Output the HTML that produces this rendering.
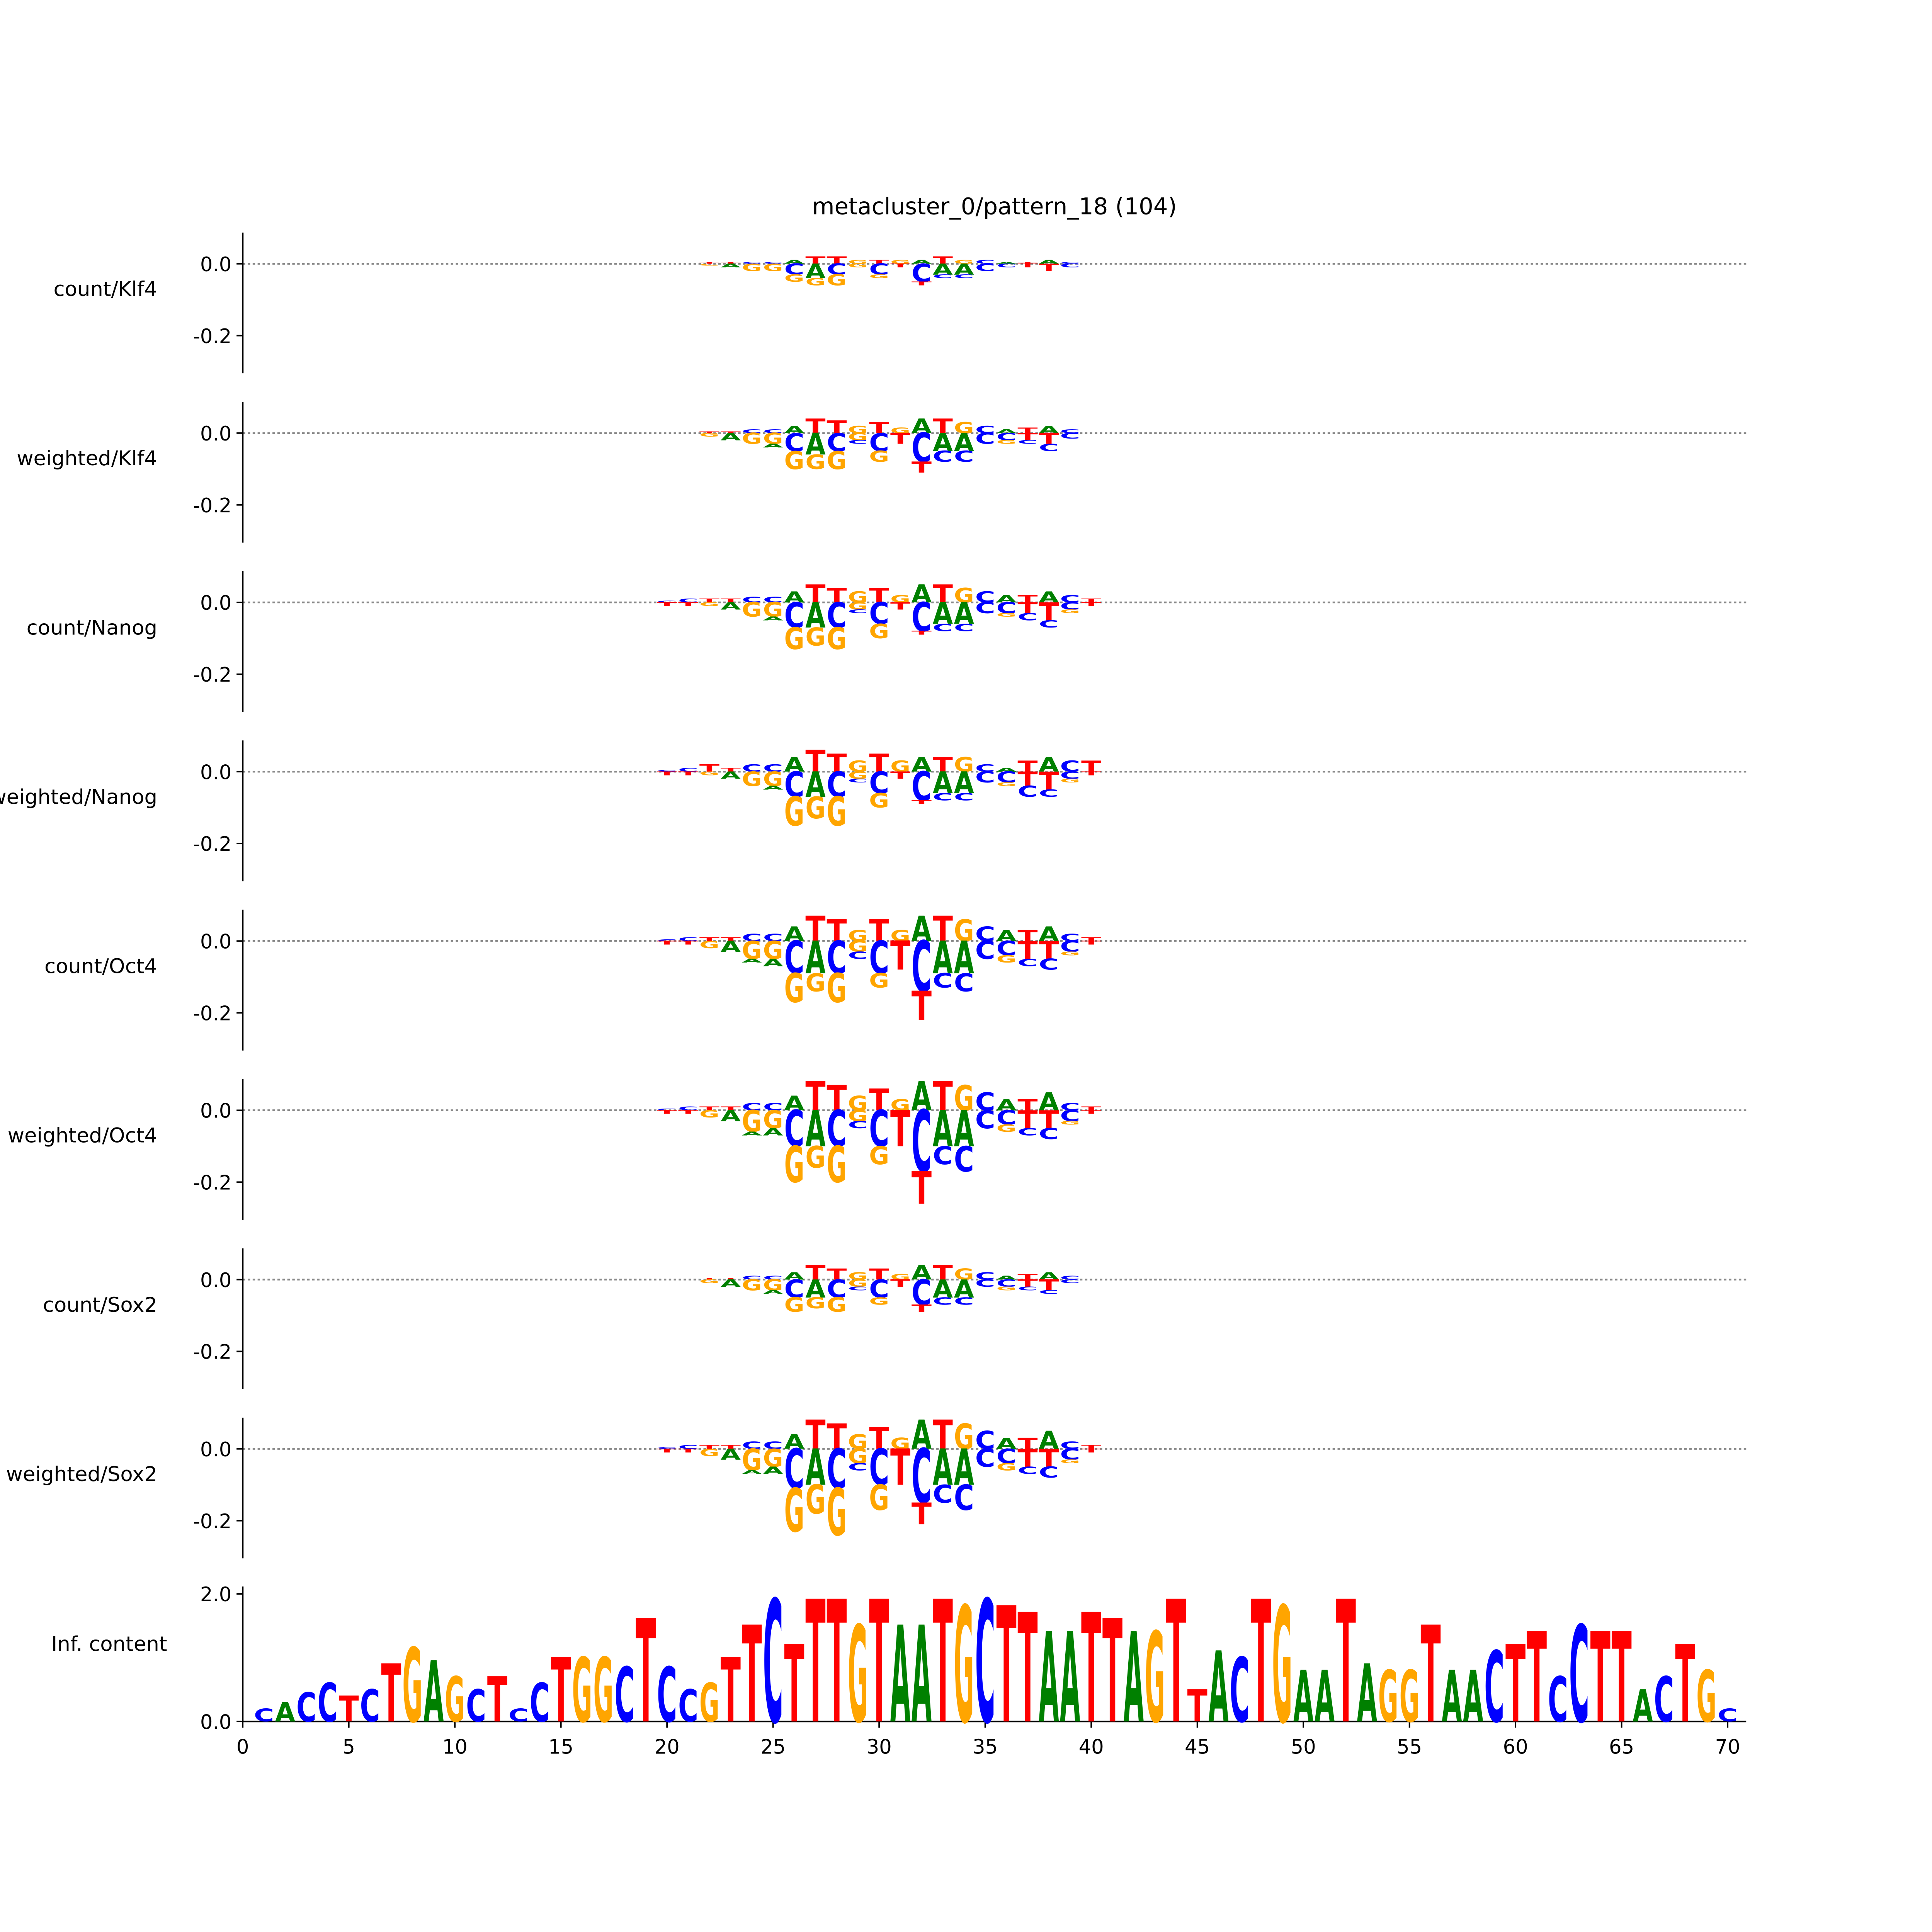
<!DOCTYPE html>
<html><head><meta charset="utf-8"><style>
html,body{margin:0;padding:0;background:#fff;width:100vw;height:100vh;overflow:hidden}
#chart{position:absolute;left:0;top:0;width:100vw;height:100vh;display:block}
text{font-family:"DejaVu Sans","Liberation Sans",sans-serif}
</style></head><body>
<svg id="chart" viewBox="0 0 1560 1560" preserveAspectRatio="none" xmlns="http://www.w3.org/2000/svg">
<rect width="1560" height="1560" fill="#fff"/>
<text x="803" y="173" font-size="18.5" text-anchor="middle">metacluster_0/pattern_18 (104)</text>
<g id="plots"></g>
</svg>
<script>
const panelNames = ["count/Klf4","weighted/Klf4","count/Nanog","weighted/Nanog","count/Oct4","weighted/Oct4","count/Sox2","weighted/Sox2"];
const START = 20;
const posLetters = "CCTTCCATTGTGATGCATACT";
const neg1Letters = "TTGAGGCACGCTCAACCTTCT";
const neg2Letters = "GGGGAAGGGCGGTCCGGCCGG";
const posVals = [
 [0,0,0.005,0.005,0.005,0.005,0.01,0.02,0.02,0.01,0.01,0.01,0.01,0.02,0.01,0.01,0.005,0.005,0.01,0.005,0],
 [0,0,0.005,0.005,0.01,0.01,0.02,0.04,0.035,0.02,0.03,0.015,0.04,0.04,0.03,0.02,0.01,0.015,0.02,0.01,0],
 [0.005,0.01,0.01,0.01,0.015,0.015,0.03,0.05,0.04,0.03,0.04,0.02,0.05,0.05,0.04,0.03,0.02,0.02,0.03,0.02,0.01],
 [0.005,0.01,0.02,0.01,0.02,0.02,0.04,0.06,0.05,0.03,0.05,0.03,0.04,0.04,0.04,0.02,0.01,0.03,0.04,0.03,0.03],
 [0.005,0.01,0.01,0.01,0.02,0.02,0.04,0.07,0.06,0.03,0.06,0.03,0.07,0.07,0.06,0.04,0.03,0.03,0.04,0.02,0.01],
 [0.005,0.01,0.01,0.01,0.02,0.02,0.04,0.08,0.07,0.04,0.06,0.03,0.08,0.08,0.07,0.05,0.03,0.03,0.05,0.02,0.01],
 [0,0,0.005,0.005,0.01,0.01,0.02,0.04,0.03,0.02,0.03,0.015,0.04,0.04,0.03,0.02,0.01,0.015,0.02,0.01,0],
 [0.005,0.01,0.01,0.01,0.02,0.02,0.04,0.08,0.07,0.04,0.06,0.03,0.08,0.08,0.07,0.05,0.03,0.03,0.05,0.02,0.01]
];
const neg1Vals = [
 [0,0,-0.005,-0.01,-0.02,-0.02,-0.03,-0.04,-0.03,-0.01,-0.03,-0.01,-0.05,-0.03,-0.03,-0.02,-0.01,-0.01,-0.02,-0.01,0],
 [0,0,-0.01,-0.02,-0.03,-0.03,-0.05,-0.06,-0.05,-0.02,-0.05,-0.03,-0.08,-0.05,-0.05,-0.03,-0.02,-0.02,-0.03,-0.015,0],
 [-0.01,-0.01,-0.01,-0.02,-0.04,-0.04,-0.07,-0.07,-0.07,-0.02,-0.06,-0.02,-0.08,-0.06,-0.06,-0.03,-0.03,-0.03,-0.05,-0.02,-0.01],
 [-0.01,-0.01,-0.01,-0.02,-0.04,-0.04,-0.07,-0.07,-0.07,-0.02,-0.06,-0.02,-0.08,-0.06,-0.06,-0.03,-0.03,-0.04,-0.05,-0.02,-0.01],
 [-0.01,-0.01,-0.02,-0.03,-0.05,-0.05,-0.09,-0.09,-0.09,-0.03,-0.09,-0.08,-0.14,-0.09,-0.09,-0.05,-0.04,-0.05,-0.05,-0.03,-0.01],
 [-0.01,-0.01,-0.02,-0.03,-0.06,-0.05,-0.1,-0.1,-0.1,-0.03,-0.1,-0.1,-0.17,-0.1,-0.1,-0.05,-0.04,-0.05,-0.05,-0.03,-0.01],
 [0,0,-0.01,-0.02,-0.03,-0.03,-0.05,-0.05,-0.05,-0.02,-0.05,-0.02,-0.07,-0.05,-0.05,-0.02,-0.02,-0.02,-0.03,-0.01,0],
 [-0.01,-0.01,-0.02,-0.03,-0.06,-0.05,-0.11,-0.1,-0.11,-0.04,-0.1,-0.1,-0.15,-0.1,-0.1,-0.05,-0.04,-0.05,-0.05,-0.03,-0.01]
];
const neg2Vals = [
 [0,0,0,0,0,0,-0.02,-0.02,-0.03,0,-0.01,0,-0.01,-0.01,-0.01,0,0,0,0,0,0],
 [0,0,0,0,0,-0.01,-0.05,-0.04,-0.05,-0.01,-0.03,0,-0.03,-0.03,-0.03,0,-0.01,-0.01,-0.02,0,0],
 [0,0,0,0,0,-0.01,-0.06,-0.05,-0.06,-0.01,-0.04,0,-0.01,-0.02,-0.02,0,-0.01,-0.02,-0.02,-0.01,0],
 [0,0,0,0,0,-0.01,-0.08,-0.06,-0.08,-0.01,-0.04,0,-0.01,-0.02,-0.02,0,-0.01,-0.03,-0.02,-0.01,0],
 [0,0,0,0,-0.01,-0.02,-0.08,-0.05,-0.08,-0.02,-0.04,0,-0.08,-0.04,-0.05,0,-0.02,-0.02,-0.03,-0.01,0],
 [0,0,0,0,-0.01,-0.02,-0.1,-0.06,-0.1,-0.02,-0.05,0,-0.09,-0.05,-0.07,0,-0.02,-0.02,-0.03,-0.01,0],
 [0,0,0,0,0,-0.01,-0.04,-0.03,-0.04,-0.01,-0.02,0,-0.02,-0.02,-0.02,0,-0.01,-0.01,-0.01,0,0],
 [0,0,0,0,-0.01,-0.02,-0.12,-0.08,-0.13,-0.02,-0.07,0,-0.06,-0.05,-0.07,0,-0.02,-0.02,-0.03,-0.01,0]
];
const icLetters = "CACCTCTGAGCTCCTGGCTCCGTTCTTTGTAATGCTTAATTAGTTACTGAATAGGTAACTTCCTTACTGC";
const icVals = [0.2,0.3,0.45,0.6,0.4,0.5,0.9,1.15,0.95,0.7,0.5,0.7,0.2,0.6,1.0,1.0,1.0,0.85,1.6,0.85,0.5,0.6,1.0,1.5,1.9,1.2,1.9,1.9,1.5,1.9,1.5,1.5,1.9,1.8,1.9,1.8,1.7,1.4,1.4,1.7,1.6,1.4,1.4,1.9,0.5,1.1,1.0,1.9,1.8,0.8,0.8,1.9,0.9,0.8,0.8,1.5,0.8,0.8,1.1,1.2,1.4,0.7,1.5,1.4,1.4,0.5,0.7,1.2,0.8,0.2];
const xTicks = [0,5,10,15,20,25,30,35,40,45,50,55,60,65,70];
const yTicks = [0.0,-0.2];
const icTicks = [0.0,2.0];

const NS="http://www.w3.org/2000/svg";
const colors={A:"#008000",C:"#0000ff",G:"#ffa500",T:"#ff0000"};
const X0=196, XPU=(1395-196)/70;
const xs=v=>X0+v*XPU;
const g=document.getElementById('plots');
function mk(tag,attrs,parent){const e=document.createElementNS(NS,tag);for(const k in attrs)e.setAttribute(k,attrs[k]);(parent||g).appendChild(e);return e;}
function letter(parent,ch,pos,yTop,yBot){
  const h=yBot-yTop; if(h<0.3)return;
  const t=mk('text',{x:0,y:0,'font-size':10,'font-weight':'bold','text-anchor':'middle',fill:colors[ch],
    textLength:7.2,lengthAdjust:'spacingAndGlyphs',
    transform:`translate(${xs(pos)},${yBot}) scale(${(XPU*0.95)/7.2},${h/7.2})`},parent);
  
  
  t.textContent=ch;
}
const PPU=290;
panelNames.forEach((name,p)=>{
  const y0=213+p*136.7;
  const ys=v=>y0-v*PPU;
  const pg=mk('g',{});
  
  
  mk('line',{x1:X0,x2:1410,y1:y0,y2:y0,stroke:'#888',"stroke-width":1.4,"stroke-dasharray":"2,2"},pg);
  const ax=mk('line',{x1:X0,x2:X0,y1:ys(0.087),y2:ys(-0.305),stroke:'#000','stroke-width':1.3},pg);
  
  
  yTicks.forEach(t=>{
    mk('line',{x1:X0-5,x2:X0,y1:ys(t),y2:ys(t),stroke:'#000','stroke-width':1.2},pg);
    const tl=mk('text',{x:X0-9,y:ys(t)+6,'font-size':16,'text-anchor':'end'},pg);
    
    
    tl.textContent=t.toFixed(1);
  });
  const lab=mk('text',{x:127,y:y0+26,'font-size':16.5,'text-anchor':'end'},pg);
  
  
  lab.textContent=name;
  for(let i=0;i<posLetters.length;i++){
    const pos=START+i;
    const pv=posVals[p][i], a=neg1Vals[p][i], b=neg2Vals[p][i];
    if(pv>0) letter(pg,posLetters[i],pos,ys(pv),ys(0));
    if(a<0) letter(pg,neg1Letters[i],pos,ys(0),ys(a));
    if(b<0) letter(pg,neg2Letters[i],pos,ys(a),ys(a+b));
  }
});
const icg=mk('g',{});


const IY0=1390, IPU=51.5;
const iys=v=>IY0-v*IPU;
mk('line',{x1:X0,x2:X0,y1:1281,y2:IY0,stroke:'#000','stroke-width':1.3},icg);
mk('line',{x1:X0,x2:1410,y1:IY0,y2:IY0,stroke:'#000','stroke-width':1.3},icg);
icTicks.forEach(t=>{
  mk('line',{x1:X0-5,x2:X0,y1:iys(t),y2:iys(t),stroke:'#000','stroke-width':1.2},icg);
  const tl=mk('text',{x:X0-9,y:iys(t)+6,'font-size':16,'text-anchor':'end'},icg);
  
  
  tl.textContent=t.toFixed(1);
});
xTicks.forEach(t=>{
  mk('line',{x1:xs(t),x2:xs(t),y1:IY0,y2:IY0+5,stroke:'#000','stroke-width':1.2},icg);
  const tl=mk('text',{x:xs(t),y:IY0+26,'font-size':16,'text-anchor':'middle'},icg);
  
  
  tl.textContent=t;
});
const icl=mk('text',{x:135,y:1333,'font-size':16.5,'text-anchor':'end'},icg);


icl.textContent="Inf. content";
icVals.forEach((v,i)=>{ letter(icg,icLetters[i],i+1,iys(v),iys(0)); });
</script>
</body></html>
